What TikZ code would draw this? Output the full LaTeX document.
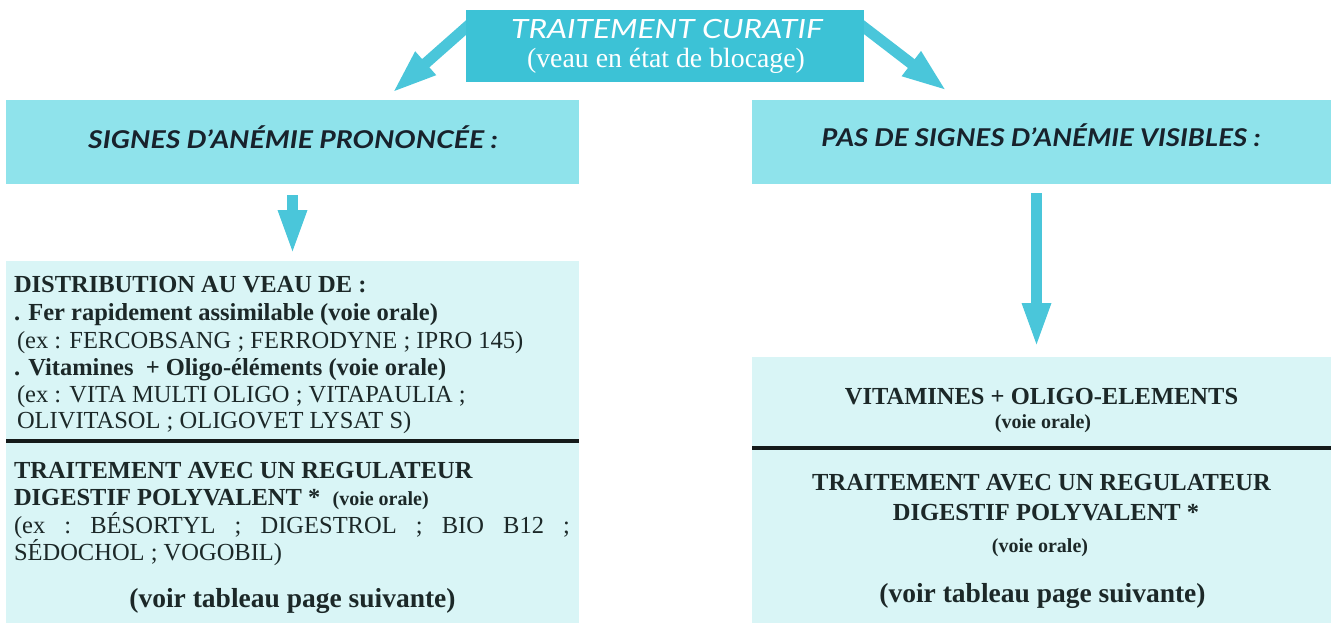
\documentclass[tikz,border=0pt]{standalone}
\usepackage{fontspec}
\setmainfont{Liberation Serif}
\newfontfamily\headfont{Lato}
\usetikzlibrary{arrows.meta}
\pgfdeclarelayer{bg}
\pgfsetlayers{bg,main}
\definecolor{topcyan}{HTML}{3CC2D6}
\definecolor{headcyan}{HTML}{8FE3EB}
\definecolor{boxcyan}{HTML}{D9F5F6}
\definecolor{arrowcyan}{HTML}{4AC6DA}
\definecolor{inkc}{HTML}{1C2828}
\definecolor{headink}{HTML}{18222C}
\definecolor{sepc}{HTML}{151A1A}
\begin{document}
\begin{tikzpicture}[x=1pt,y=-1pt,
  panel/.style={inner sep=0pt, outer sep=0pt, draw=none},
  txt/.style={inner sep=0pt, outer sep=0pt, text=inkc, font=\fontsize{24.5}{27}\selectfont},
  headtxt/.style={inner sep=0pt, outer sep=0pt, text=headink, font=\headfont\bfseries\itshape\fontsize{24.5}{28}\selectfont},
  diagarrow/.style={draw=arrowcyan, line width=11pt, -{Triangle[length=45pt,width=28pt]}},
  downarrow/.style={draw=arrowcyan, line width=11pt, -{Triangle[length=45pt,width=26pt]}},
  sepline/.style={draw=sepc, line width=4.5pt}
]
\useasboundingbox (0,0) rectangle (1331,623);

% boxes
\node[panel, fill=topcyan, minimum width=398pt, minimum height=72pt] (top) at (665,46) {};
\node[panel, fill=headcyan, minimum width=573pt, minimum height=84pt] (lhead) at (292.5,142) {};
\node[panel, fill=headcyan, minimum width=579pt, minimum height=84pt] (rhead) at (1041.5,142) {};
\node[panel, fill=boxcyan, minimum width=573pt, minimum height=362pt] (lbox) at (292.5,442) {};
\node[panel, fill=boxcyan, minimum width=579pt, minimum height=266pt] (rbox) at (1041.5,490) {};

% separators
\draw[sepline] ([yshift=-180pt]lbox.north west) -- ([yshift=-180pt]lbox.north east);
\draw[sepline] ([yshift=-91pt]rbox.north west) -- ([yshift=-91pt]rbox.north east);

% top texts
\node[inner sep=0pt, text=white, font=\headfont\itshape\fontsize{26.5}{30}\selectfont, anchor=base] (ttitle) at (667,39) {\scalebox{1.2}[1]{TRAITEMENT CURATIF}};
\node[inner sep=0pt, text=white, font=\fontsize{27.8}{30}\selectfont, anchor=base] (tsub) at (666,68) {(veau en état de blocage)};

% headers
\node[headtxt, anchor=base] (lht) at (293,149) {\scalebox{1.16}[1]{SIGNES D’ANÉMIE PRONONCÉE :}};
\node[headtxt, anchor=base] (rht) at (1041,147) {\scalebox{1.13}[1]{PAS DE SIGNES D’ANÉMIE VISIBLES :}};

% left box texts
\node[txt, anchor=base west] (l1) at (14,292) {\bfseries DISTRIBUTION AU VEAU DE :};
\node[txt, anchor=base west] (l2) at (14,320) {\bfseries . Fer rapidement assimilable (voie orale)};
\node[txt, anchor=base west] (l3) at (17,348) {(ex : FERCOBSANG ; FERRODYNE ; IPRO 145)};
\node[txt, anchor=base west] (l4) at (14,375) {\bfseries . Vitamines\ \ + Oligo-éléments (voie orale)};
\node[txt, anchor=base west] (l5) at (17,402) {(ex : VITA MULTI OLIGO ; VITAPAULIA ;};
\node[txt, anchor=base west] (l6) at (17,428) {OLIVITASOL ; OLIGOVET LYSAT S)};
\node[txt, anchor=base west] (l7) at (14,478) {\bfseries TRAITEMENT AVEC UN REGULATEUR};
\node[txt, anchor=base west] (l8) at (14,505) {\bfseries DIGESTIF POLYVALENT *\ \ {\fontsize{20}{24}\selectfont (voie orale)}};
\node[txt, anchor=base west] (l9) at (14,533) {\makebox[556pt][s]{(ex\ \ :\ \ BÉSORTYL\ \ ;\ \ DIGESTROL\ \ ;\ \ BIO\ \ B12\ \ ;}};
\node[txt, anchor=base west] (l10) at (14,560) {SÉDOCHOL ; VOGOBIL)};
\node[txt, anchor=base, font=\fontsize{27.5}{30}\selectfont\bfseries] (l11) at (292.5,607) {(voir tableau page suivante)};

% right box texts
\node[txt, anchor=base] (r1) at (1041.5,404) {\bfseries VITAMINES + OLIGO-ELEMENTS};
\node[txt, anchor=base, font=\fontsize{20}{24}\selectfont\bfseries] (r2) at (1043,428) {(voie orale)};
\node[txt, anchor=base] (r3) at (1041.5,490) {\bfseries TRAITEMENT AVEC UN REGULATEUR};
\node[txt, anchor=base] (r4) at (1046,520) {\bfseries DIGESTIF POLYVALENT *};
\node[txt, anchor=base, font=\fontsize{20}{24}\selectfont\bfseries] (r5) at (1040,552) {(voie orale)};
\node[txt, anchor=base, font=\fontsize{27.5}{30}\selectfont\bfseries] (r6) at (1042.5,602) {(voir tableau page suivante)};

% arrows
\begin{pgfonlayer}{bg}
\draw[diagarrow] ([xshift=12pt,yshift=29pt]top.west) -- ([xshift=99.5pt,yshift=7pt]lhead.north);
\draw[diagarrow] ([xshift=-12pt,yshift=28pt]top.east) -- ([xshift=-94.5pt,yshift=9pt]rhead.north);
\end{pgfonlayer}
\draw[downarrow] ([yshift=-11pt]lhead.south) -- ([yshift=6pt]lbox.north);
\draw[downarrow] ([xshift=-5pt,yshift=-9pt]rhead.south) -- ([xshift=-5pt,yshift=9pt]rbox.north);
\end{tikzpicture}
\end{document}
